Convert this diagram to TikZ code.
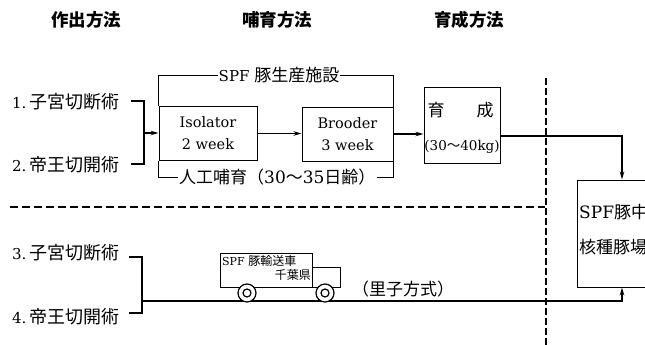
\documentclass[tikz,border=0pt]{standalone}
\usepackage{fontspec}
\setmainfont{DejaVu Serif}
\newfontfamily\cjk{Noto Sans CJK JP}
\usetikzlibrary{arrows.meta,calc}
\newcommand\jsize{\fontsize{17}{20}\selectfont}
\newcommand\lsize{\fontsize{14.5}{22}\selectfont}
\newcommand\mlabel[2]{#1.\hspace{3pt}{\cjk\fontsize{18}{20}\selectfont #2}}
\begin{document}
\begin{tikzpicture}[x=1pt,y=-1pt,
  every node/.style={inner sep=1pt},
  head/.style={font=\cjk\bfseries\fontsize{17.5}{20}\selectfont},
  method/.style={anchor=west,font=\fontsize{15}{20}\selectfont},
  unit/.style={draw,line width=1pt,inner sep=0pt,minimum width=#1},
  thin/.style={line width=0.9pt},
  brace/.style={line width=2pt},
  arr/.style={line width=1.6pt,-{Stealth[length=8pt,width=4.5pt]}},
  dashline/.style={line width=1.2pt,dash pattern=on 8pt off 4pt},
  vdash/.style={line width=1.2pt,dash pattern=on 7pt off 3pt}]
\useasboundingbox (0,0) rectangle (645,345);
\clip (0,0) rectangle (645,345);

% column headings
\node[head] (h1) at (86,20) {作出方法};
\node[head] (h2) at (277,20) {哺育方法};
\node[head] (h3) at (469,20) {育成方法};

% delivery methods
\node[method] (l1) at (11,102) {\mlabel{1}{子宮切断術}};
\node[method] (l2) at (11,165) {\mlabel{2}{帝王切開術}};
\node[method] (l3) at (11,253) {\mlabel{3}{子宮切断術}};
\node[method] (l4) at (11,317) {\mlabel{4}{帝王切開術}};

% rearing units
\node[unit=98pt,minimum height=54pt,align=center,font=\lsize] (iso) at (208,133.5) {Isolator\\2 week};
\node[unit=91pt,minimum height=54pt,align=center,font=\lsize] (brood) at (347.5,134) {Brooder\\3 week};
\node[unit=76pt,minimum height=76pt] (grow) at (462,125) {};
\node[font=\cjk\jsize] (g1) at (436,110) {育};
\node[font=\cjk\jsize] (g2) at (485,110) {成};
\node[inner sep=0pt,font=\fontsize{13.5}{16}\selectfont] (g3) at (462,147) {(30{\cjk 〜}40kg)};
\node[unit=90pt,minimum height=107pt] (spf) at (622,233.5) {};
\node[anchor=west,inner sep=0pt,font=\jsize] (s1) at (579,212) {SPF{\cjk 豚中}};
\node[anchor=west,inner sep=0pt,font=\cjk\jsize] (s2) at (579,247) {核種豚場};

% facility and artificial rearing brackets
\node[font=\fontsize{15}{20}\selectfont] (fac) at (279,75) {SPF {\cjk\jsize 豚生産施設}};
\node[anchor=west,font=\jsize] (nurse) at (178,177) {{\cjk 人工哺育（}30{\cjk 〜}35{\cjk 日齢）}};
\draw[thin] (iso.north west) -- (iso.north west |- fac) -- (fac.west);
\draw[thin] (fac.east) -- (brood.north east |- fac) -- (brood.north east);
\draw[thin] (iso.south west) -- (iso.south west |- nurse) -- (nurse.west);
\draw[thin] (nurse.east) -- (brood.south east |- nurse) -- (brood.south east);

% brackets joining methods
\coordinate (k1t) at (131,101);
\coordinate (k1b) at (131,164);
\coordinate (k1) at (144,133);
\draw[brace] (k1t) -- (k1t -| k1) -- (k1b -| k1) -- (k1b);
\coordinate (k2t) at (129,257);
\coordinate (k2b) at (129,313);
\coordinate (k2) at (142,301);
\draw[brace] (k2t) -- (k2t -| k2) -- (k2b -| k2) -- (k2b);

% flow arrows
\draw[arr] (k1) -- (iso.west |- k1);
\draw[arr] (iso.east) -- (brood.west |- iso.east);
\draw[arr] (brood.east) -- (brood.east -| grow.west);
\draw[arr] (grow.east |- 0,136) -| (spf.north);
\draw[arr] (k2) -| (spf.south);

% transport truck
\draw[line width=1pt,fill=white] (220,253) rectangle (312,287);
\draw[line width=1pt,fill=white] (312,267) rectangle (340,287);
\foreach \cx in {247,325} {
  \draw[line width=1.2pt,fill=white] (\cx,293) circle (9pt);
  \draw[line width=1.2pt] (\cx,293) circle (4pt);
}
\node[anchor=west,inner sep=0pt,font=\fontsize{11}{12}\selectfont] (t1) at (222,261) {SPF {\cjk\fontsize{12}{12}\selectfont 豚輸送車}};
\node[anchor=east,inner sep=0pt,font=\cjk\fontsize{12}{12}\selectfont] (t2) at (311,274.5) {千葉県};
\node[font=\cjk\jsize] (sat) at (403,289) {（里子方式）};

% separating dashed lines
\draw[dashline] (10,207) -- (545,207);
\draw[vdash] (546,78) -- (546,345);
\end{tikzpicture}
\end{document}
